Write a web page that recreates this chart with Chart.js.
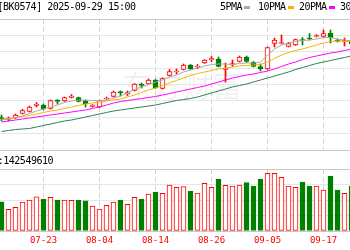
<!DOCTYPE html>
<html><head><meta charset="utf-8">
<script src="https://cdn.jsdelivr.net/npm/chart.js@4.4.0/dist/chart.umd.min.js"></script>
<style>
html,body{margin:0;padding:0;background:#fff;}
body{width:350px;height:250px;overflow:hidden;position:relative;font-family:"DejaVu Sans Mono",monospace;}
.t{position:absolute;font-size:10px;line-height:12px;letter-spacing:-0.5px;color:#000;white-space:nowrap;}
.m{position:absolute;height:3px;width:6px;top:6px;}
canvas{position:absolute;left:0;}
#wm{position:absolute;left:122px;top:62px;font:30px "Noto Sans CJK SC";color:rgba(0,0,0,0.06);white-space:nowrap;}
</style></head><body>
<div id="wm">东方财富</div>
<canvas id="c1" width="350" height="151" style="top:0"></canvas>
<canvas id="c2" width="350" height="100" style="top:150px"></canvas>
<div class="t" style="left:-2.5px;top:1px">[BK0574] 2025-09-29 15:00</div>
<div class="t" style="left:220px;top:1px">5PMA</div><div class="m" style="left:244px;background:#aaaaaa"></div>
<div class="t" style="left:258px;top:1px">10PMA</div><div class="m" style="left:288px;background:#f5b400"></div>
<div class="t" style="left:299px;top:1px">20PMA</div><div class="m" style="left:329px;background:#ff00ff"></div>
<div class="t" style="left:340px;top:1px">30PMA</div>
<div class="t" style="right:297px;top:155px">成交量:142549610</div>
<script>
// trading days shown
const dates = ['07-15','07-16','07-17','07-18','07-21','07-22','07-23','07-24','07-25','07-28','07-29','07-30','07-31',
 '08-01','08-04','08-05','08-06','08-07','08-08','08-11','08-12','08-13','08-14','08-15','08-18','08-19','08-20','08-21','08-22','08-25','08-26','08-27','08-28','08-29',
 '09-01','09-02','09-03','09-04','09-05','09-08','09-09','09-10','09-11','09-12','09-15','09-16','09-17','09-18','09-19','09-22','09-23'];
const tickDates = ['07-23','08-04','08-14','08-26','09-05','09-17'];
const open  = [1065,1061,1064,1073,1077,1089,1090,1083,1100,1098,1105,1105,1098,1087,1086,1102,1107,1117,1112,1119,1132,1132,1140,1123,1149,1156,1161,1170,1166,1174,1180,1182,1161,1170,1177,1186,1176,1167,1162,1213,1213,1207,1210,1221,1224,1227,1227,1234,1220,1216,1220];
const close = [1062,1063,1070,1079,1086,1092,1082,1099,1097,1105,1108,1097,1092,1090,1099,1104,1116,1114,1115,1132,1129,1140,1124,1143,1157,1158,1170,1162,1168,1180,1183,1167,1164,1173,1186,1177,1167,1162,1205,1220,1215,1213,1221,1219,1222,1229,1233,1224,1218,1219,1212];
const high  = [1070,1066,1072,1081,1088,1095,1092,1100,1101,1106,1111,1106,1100,1091,1100,1106,1118,1118,1118,1133,1134,1142,1141,1144,1161,1162,1172,1171,1171,1181,1187,1186,1174,1180,1188,1188,1177,1172,1206,1224,1230,1215,1222,1225,1233,1231,1240,1240,1222,1224,1222];
const low   = [1058,1058,1063,1072,1076,1086,1080,1082,1092,1097,1104,1096,1086,1086,1085,1101,1106,1108,1109,1118,1124,1131,1123,1122,1148,1152,1160,1161,1163,1173,1177,1166,1136,1167,1176,1175,1166,1158,1161,1206,1212,1206,1209,1210,1220,1226,1226,1214,1216,1208,1210];
const ma5  = [1060,1062,1065,1068,1073,1078,1082,1086,1090,1095,1098,1100,1100,1099,1099,1100,1104,1108,1114,1121,1126,1131,1136,1140,1146,1150,1156,1160,1164,1168,1171,1172,1172,1171,1173,1174,1174,1176,1190,1202,1210,1214,1217,1219,1220,1222,1225,1225,1222,1220,1218];
const ma10 = [1062,1063,1065,1067,1069,1072,1075,1078,1080,1083,1086,1089,1092,1094,1096,1098,1100,1102,1106,1110,1115,1120,1124,1129,1134,1139,1144,1149,1153,1156,1159,1162,1164,1166,1168,1169,1170,1171,1176,1183,1190,1195,1199,1202,1206,1210,1214,1217,1218,1217,1217];
const ma20 = [1056,1058,1060,1062,1064,1066,1068,1070,1072,1074,1076,1078,1080,1083,1086,1090,1094,1097,1099,1101,1103,1105,1107,1110,1113,1116,1119,1122,1125,1128,1132,1136,1140,1144,1147,1150,1152,1155,1158,1162,1167,1172,1176,1181,1185,1188,1191,1194,1196,1199,1202];
const ma30 = [1037,1039,1041,1042,1043,1046,1049,1052,1055,1058,1060,1063,1066,1069,1072,1075,1078,1080,1082,1084,1086,1088,1090,1093,1096,1099,1101,1103,1106,1110,1114,1118,1122,1126,1129,1132,1136,1140,1144,1148,1152,1156,1161,1165,1169,1173,1176,1179,1182,1185,1188];
// volume, millions of shares
const volume = [94.5,70.0,76.5,93.5,100.0,110.6,102.3,108.7,100.0,100.0,99.0,100.0,97.7,80.6,71.0,82.9,93.5,100.0,86.1,108.7,102.3,119.4,125.8,121.6,148.4,141.0,142.9,128.1,122.6,153.9,141.0,166.8,147.4,145.2,148.4,155.8,145.2,166.8,186.1,186.1,173.2,145.2,141.0,158.1,145.2,145.2,132.3,177.4,132.3,121.6,145.2];

const RED = '#ff0000', GREEN = '#008000';
const idx = dates.map((d, i) => i);
const up = idx.map(i => close[i] >= open[i]);
const edge = idx.map(i => up[i] ? RED : GREEN);
const fill = idx.map(i => up[i] ? '#ffffff' : GREEN);
const tickIdx = tickDates.map(d => dates.indexOf(d));
const XMIN = -1.5 / 7, XMAX = XMIN + 50;

const line = (label, arr, color) => ({type: 'line', label, data: idx.map(i => ({x: i, y: arr[i]})),
  borderColor: color, borderWidth: 1, pointRadius: 0, tension: 0, order: 1, clip: 0});

const xGrid = {
  type: 'linear', min: XMIN, max: XMAX, offset: false,
  afterBuildTicks: s => { s.ticks = tickIdx.map(v => ({value: v})); },
  grid: {color: '#d4d4d4', drawTicks: false, offset: false},
  border: {display: false, dash: [5, 3]}
};

new Chart(document.getElementById('c1'), {
  type: 'bar',
  data: {datasets: [
    line('5PMA', ma5, '#aaaaaa'),
    line('10PMA', ma10, '#f5b400'),
    line('20PMA', ma20, '#ff00ff'),
    line('30PMA', ma30, '#2d8050'),
    {type: 'bar', data: idx.map(i => ({x: i, y: [Math.min(open[i], close[i]), Math.max(open[i], close[i])]})),
     backgroundColor: fill, borderColor: edge, borderWidth: 1, borderSkipped: false,
     barThickness: 5, grouped: false, order: 2, clip: 0},
    {type: 'bar', data: idx.map(i => ({x: i, y: [low[i], high[i]]})),
     backgroundColor: edge, borderWidth: 0, barThickness: 1, grouped: false, order: 3, clip: 0}
  ]},
  options: {
    responsive: false, animation: false, devicePixelRatio: 1,
    layout: {padding: {top: 19, bottom: 1, left: 0, right: 0}},
    plugins: {legend: {display: false}, tooltip: {enabled: false}},
    scales: {
      x: Object.assign({}, xGrid, {ticks: {display: false}, afterFit: s => { s.height = 0; }}),
      y: {min: 1000, max: 1262,
          afterBuildTicks: s => { const a = []; for (let k = 0; k <= 8; k++) a.push({value: s.min + (s.max - s.min) * k / 8}); s.ticks = a; },
          afterFit: s => { s.width = 0; },
          ticks: {display: false},
          grid: {drawTicks: false, color: c => (c.index === 0 || c.index === 8) ? '#c8c8c8' : '#e6e6e6'},
          border: {display: false}}
    }
  }
});

new Chart(document.getElementById('c2'), {
  type: 'bar',
  data: {datasets: [
    {data: idx.map(i => ({x: i, y: volume[i]})), backgroundColor: fill, borderColor: edge,
     borderWidth: 1, borderSkipped: false, barThickness: 5, grouped: false, clip: 0}
  ]},
  options: {
    responsive: false, animation: false, devicePixelRatio: 1,
    layout: {padding: {top: 19, bottom: 0, left: 0, right: 0}},
    plugins: {legend: {display: false}, tooltip: {enabled: false}},
    scales: {
      x: Object.assign({}, xGrid, {
        afterFit: s => { s.height = 19; },
        ticks: {autoSkip: false, maxRotation: 0, padding: 4, color: '#ff0000',
                font: {family: 'DejaVu Sans Mono', size: 9}, callback: v => dates[v]}
      }),
      y: {min: 0, max: 200,
          afterBuildTicks: s => { s.ticks = [0, 50, 100, 150, 200].map(v => ({value: v})); },
          afterFit: s => { s.width = 0; },
          ticks: {display: false},
          grid: {drawTicks: false, color: c => (c.index === 0 || c.index === 4) ? '#c8c8c8' : '#e6e6e6'},
          border: {display: false}}
    }
  }
});
</script>
</body></html>
